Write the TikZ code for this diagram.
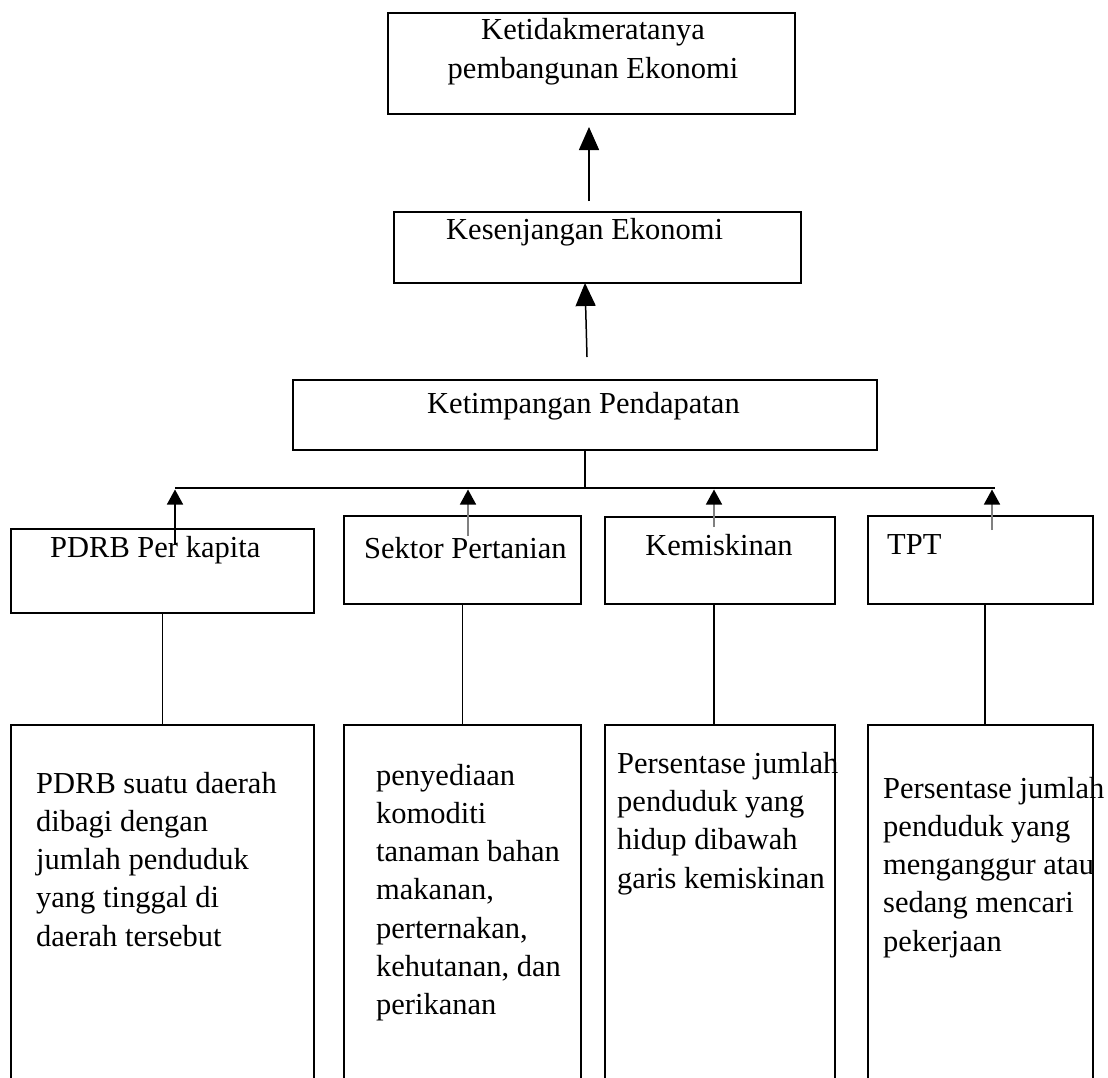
\documentclass[tikz,border=0pt]{standalone}
\usepackage{fontspec}
\setmainfont{Liberation Serif}
\usetikzlibrary{arrows.meta}

\begin{document}
\begin{tikzpicture}[x=1pt,y=-1pt,
    kotak/.style={draw, line width=2pt, inner sep=0pt, anchor=north west},
    teks/.style={inner sep=0pt, font=\fontsize{30.5}{38.25}\selectfont},
    garis/.style={line width=1.8pt},
    panah/.style={line width=1.5pt, -{Triangle[length=23pt,width=20pt]}},
    panahkecil/.style={line width=1.5pt, shorten >=1.5pt, -{Triangle[length=15pt,width=16pt,color=black]}}]
      % page
      \useasboundingbox (0,0) rectangle (1108,1077);
      % upper boxes
      \node[kotak, minimum width=407pt, minimum height=101pt] (atas) at (387,12) {};
      \node[kotak, minimum width=407pt, minimum height=71pt] (senjang) at (393,211) {};
      \node[kotak, minimum width=584pt, minimum height=70pt] (timpang) at (292,379) {};
      % (base of a multi-line node = its last line)
      \node[teks, align=center, anchor=base] (atasteks) at (593,78) {Ketidakmeratanya\\pembangunan Ekonomi};
      \node[teks, anchor=base west] (senjangteks) at (446,239) {Kesenjangan Ekonomi};
      \node[teks, anchor=base west] (timpangteks) at (427,413) {Ketimpangan Pendapatan};
      % arrows between upper boxes
      \coordinate (s1) at (589,201);
      \coordinate (e1) at (589,127);
      \coordinate (s2) at (587,357);
      \coordinate (e2) at (585,283);
      \draw[panah] (s1) -- (e1);
      \draw[panah] (s2) -- (e2);
      % middle boxes
      \node[kotak, minimum width=303pt, minimum height=84pt] (pdrb) at (10,528) {};
      \node[kotak, minimum width=237pt, minimum height=88pt] (sektor) at (343,515) {};
      \node[kotak, minimum width=230pt, minimum height=87pt] (miskin) at (604,516) {};
      \node[kotak, minimum width=225pt, minimum height=88pt] (tpt) at (867,515) {};
      \node[teks, anchor=base west] (pdrbteks) at (50,557) {PDRB Per kapita};
      \node[teks, anchor=base west] (sektorteks) at (364,558) {Sektor Pertanian};
      \node[teks, anchor=base] (miskinteks) at (719,555) {Kemiskinan};
      \node[teks, anchor=base west] (tptteks) at (887,554) {TPT};
      % horizontal line
      \coordinate (kiri) at (175,488);
      \coordinate (kanan) at (995,488);
      \draw[line width=2.4pt] (kiri) -- (kanan);
      \draw[line width=2.4pt] (timpang.south) -- (timpang.south |- kiri);
      % small arrows
      \coordinate (p1) at (175,545);
      \coordinate (p2) at (468,536);
      \coordinate (p3) at (714,527);
      \coordinate (p4) at (992,530);
      \draw[panahkecil] (p1) -- (p1 |- kiri);
      \draw[panahkecil, gray] (p2) -- (p2 |- kiri);
      \draw[panahkecil, gray] (p3) -- (p3 |- kiri);
      \draw[panahkecil, gray] (p4) -- (p4 |- kiri);
      % lower boxes
      \node[kotak, minimum width=303pt, minimum height=370pt] (pdrbket) at (10,724) {};
      \node[kotak, minimum width=237pt, minimum height=370pt] (sektorket) at (343,724) {};
      \node[kotak, minimum width=230pt, minimum height=370pt] (miskinket) at (604,724) {};
      \node[kotak, minimum width=225pt, minimum height=370pt] (tptket) at (867,724) {};
      \draw[garis] (pdrb.south) -- (pdrbket.north);
      \draw[garis] (sektor.south) -- (sektorket.north);
      \draw[garis] ([xshift=-6pt]miskin.south) -- ([xshift=-6pt]miskinket.north);
      \draw[garis] ([xshift=4.5pt]tpt.south) -- ([xshift=4.5pt]tptket.north);
      \node[teks, align=left, anchor=base west] (pdrbket1) at (36,946)
        {PDRB suatu daerah\\dibagi dengan\\jumlah penduduk\\yang tinggal di\\daerah tersebut};
      \node[teks, align=left, anchor=base west] (sektorket1) at (376,1014.5)
        {penyediaan\\komoditi\\tanaman bahan\\makanan,\\perternakan,\\kehutanan, dan\\perikanan};
      \node[teks, align=left, anchor=base west] (miskinket1) at (617,888)
        {Persentase jumlah\\penduduk yang\\hidup dibawah\\garis kemiskinan};
      \node[teks, align=left, anchor=base west] (tptket1) at (883,951)
        {Persentase jumlah\\penduduk yang\\menganggur atau\\sedang mencari\\pekerjaan};
\end{tikzpicture}
\end{document}
